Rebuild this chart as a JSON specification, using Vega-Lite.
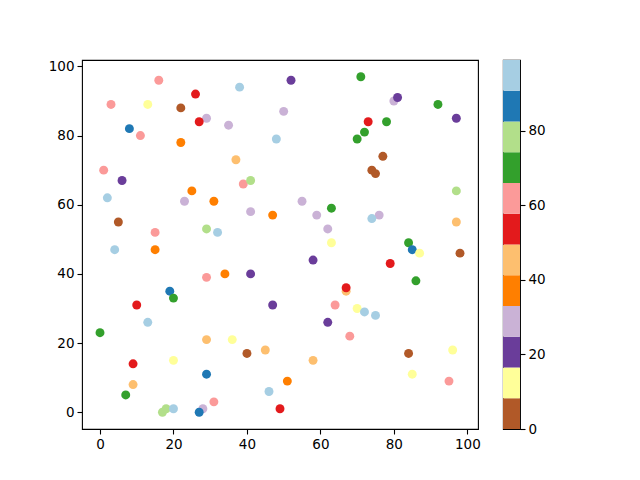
{
  "$schema": "https://vega.github.io/schema/vega-lite/v6.json",
  "padding": {"left": 41, "top": 58, "right": 5, "bottom": 5},
  "config": {
    "view": {"stroke": "black", "strokeWidth": 1.1},
    "font": "DejaVu Sans",
    "axis": {"grid": false, "domain": false, "tickColor": "black", "tickSize": 5, "tickWidth": 1.1, "labelColor": "black", "labelFontSize": 13.5, "labelFont": "DejaVu Sans", "labelPadding": 3, "title": null, "labelFlush": false}
  },
  "spacing": 21,
  "resolve": {"scale": {"x": "independent", "y": "independent", "color": "independent"}},
  "hconcat": [
    {
      "width": 396,
      "height": 369,
      "data": {"values": [
        {"x":16,"y":96,"c":62},{"x":26,"y":92,"c":53},{"x":3,"y":89,"c":62},{"x":13,"y":89,"c":12},{"x":22,"y":88,"c":4},
        {"x":29,"y":85,"c":29},{"x":27,"y":84,"c":53},{"x":8,"y":82,"c":86},{"x":11,"y":80,"c":62},{"x":22,"y":78,"c":37},
        {"x":1,"y":70,"c":62},{"x":38,"y":94,"c":95},{"x":52,"y":96,"c":20},{"x":50,"y":87,"c":29},{"x":35,"y":83,"c":29},
        {"x":48,"y":79,"c":95},{"x":37,"y":73,"c":45},{"x":71,"y":97,"c":70},{"x":80,"y":90,"c":29},{"x":81,"y":91,"c":20},
        {"x":92,"y":89,"c":70},{"x":73,"y":84,"c":53},{"x":78,"y":84,"c":70},{"x":97,"y":85,"c":20},{"x":72,"y":81,"c":70},
        {"x":70,"y":79,"c":70},{"x":77,"y":74,"c":4},{"x":74,"y":70,"c":4},{"x":75,"y":69,"c":4},{"x":6,"y":67,"c":20},
        {"x":25,"y":64,"c":37},{"x":2,"y":62,"c":95},{"x":23,"y":61,"c":29},{"x":31,"y":61,"c":37},{"x":5,"y":55,"c":4},
        {"x":29,"y":53,"c":78},{"x":32,"y":52,"c":95},{"x":15,"y":52,"c":62},{"x":4,"y":47,"c":95},{"x":15,"y":47,"c":37},
        {"x":29,"y":39,"c":62},{"x":19,"y":35,"c":86},{"x":20,"y":33,"c":70},{"x":39,"y":66,"c":62},{"x":41,"y":67,"c":78},
        {"x":55,"y":61,"c":29},{"x":41,"y":58,"c":29},{"x":47,"y":57,"c":37},{"x":59,"y":57,"c":29},{"x":63,"y":59,"c":70},
        {"x":62,"y":53,"c":29},{"x":63,"y":49,"c":12},{"x":58,"y":44,"c":20},{"x":34,"y":40,"c":37},{"x":41,"y":40,"c":20},
        {"x":67,"y":35,"c":45},{"x":67,"y":36,"c":53},{"x":97,"y":64,"c":78},{"x":76,"y":57,"c":29},{"x":74,"y":56,"c":95},
        {"x":97,"y":55,"c":45},{"x":84,"y":49,"c":70},{"x":85,"y":47,"c":86},{"x":87,"y":46,"c":12},{"x":98,"y":46,"c":4},
        {"x":79,"y":43,"c":53},{"x":86,"y":38,"c":70},{"x":10,"y":31,"c":53},{"x":13,"y":26,"c":95},{"x":0,"y":23,"c":70},
        {"x":29,"y":21,"c":45},{"x":20,"y":15,"c":12},{"x":9,"y":14,"c":53},{"x":29,"y":11,"c":86},{"x":9,"y":8,"c":45},
        {"x":7,"y":5,"c":70},{"x":31,"y":3,"c":62},{"x":17,"y":0,"c":78},{"x":18,"y":1,"c":78},{"x":20,"y":1,"c":95},
        {"x":28,"y":1,"c":29},{"x":27,"y":0,"c":86},{"x":47,"y":31,"c":20},{"x":64,"y":31,"c":62},{"x":62,"y":26,"c":20},
        {"x":36,"y":21,"c":12},{"x":40,"y":17,"c":4},{"x":45,"y":18,"c":45},{"x":58,"y":15,"c":45},{"x":51,"y":9,"c":37},
        {"x":46,"y":6,"c":95},{"x":49,"y":1,"c":53},{"x":70,"y":30,"c":12},{"x":72,"y":29,"c":95},{"x":75,"y":28,"c":95},
        {"x":68,"y":22,"c":62},{"x":84,"y":17,"c":4},{"x":96,"y":18,"c":12},{"x":85,"y":11,"c":12},{"x":95,"y":9,"c":62}
      ]},
      "mark": {"type": "circle", "size": 80, "opacity": 1},
      "encoding": {
        "x": {"field": "x", "type": "quantitative", "scale": {"domain": [-4.9, 102.9], "nice": false, "zero": false}, "axis": {"values": [0, 20, 40, 60, 80, 100]}},
        "y": {"field": "y", "type": "quantitative", "scale": {"domain": [-4.85, 101.85], "nice": false, "zero": false}, "axis": {"values": [0, 20, 40, 60, 80, 100], "minExtent": 40, "maxExtent": 40}},
        "color": {"field": "c", "type": "quantitative", "legend": null,
          "scale": {"type": "threshold", "domain": [8.25, 16.5, 24.75, 33, 41.25, 49.5, 57.75, 66, 74.25, 82.5, 90.75],
            "range": ["#b15928", "#ffff99", "#6a3d9a", "#cab2d6", "#ff7f00", "#fdbf6f", "#e31a1c", "#fb9a99", "#33a02c", "#b2df8a", "#1f78b4", "#a6cee3"]}}
      }
    },
    {
      "width": 17,
      "height": 369,
      "data": {"values": [
        {"lo":0,"hi":8.25},{"lo":8.25,"hi":16.5},{"lo":16.5,"hi":24.75},{"lo":24.75,"hi":33},
        {"lo":33,"hi":41.25},{"lo":41.25,"hi":49.5},{"lo":49.5,"hi":57.75},{"lo":57.75,"hi":66},
        {"lo":66,"hi":74.25},{"lo":74.25,"hi":82.5},{"lo":82.5,"hi":90.75},{"lo":90.75,"hi":99}
      ]},
      "mark": {"type": "rect"},
      "encoding": {
        "y": {"field": "lo", "type": "quantitative", "scale": {"domain": [0, 99], "nice": false, "zero": false}, "axis": {"orient": "right", "values": [0, 20, 40, 60, 80]}},
        "y2": {"field": "hi"},
        "color": {"field": "lo", "type": "quantitative", "legend": null,
          "scale": {"type": "threshold", "domain": [8.25, 16.5, 24.75, 33, 41.25, 49.5, 57.75, 66, 74.25, 82.5, 90.75],
            "range": ["#b15928", "#ffff99", "#6a3d9a", "#cab2d6", "#ff7f00", "#fdbf6f", "#e31a1c", "#fb9a99", "#33a02c", "#b2df8a", "#1f78b4", "#a6cee3"]}}
      }
    }
  ]
}
